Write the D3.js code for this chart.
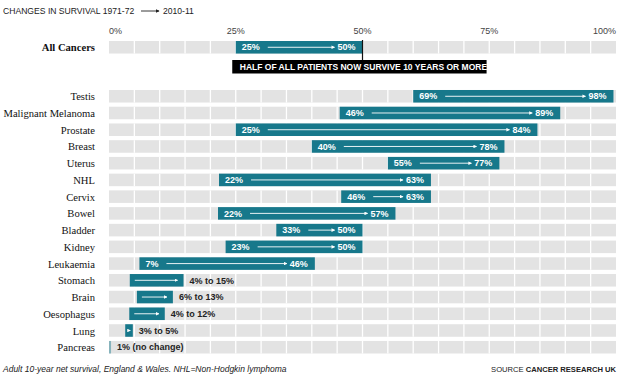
<!DOCTYPE html>
<html>
<head>
<meta charset="utf-8">
<script src="https://cdn.jsdelivr.net/npm/d3@7"></script>
<style>
  html, body { margin: 0; padding: 0; background: #fff; }
  svg { display: block; }
</style>
</head>
<body>
<div id="chart"></div>
<script>
// Cancer survival dumbbell-style bars
(function() {
  "use strict";

  // ---- data ----
  const cancers = ["Testis", "Malignant Melanoma", "Prostate", "Breast", "Uterus", "NHL", "Cervix", "Bowel",
    "Bladder", "Kidney", "Leukaemia", "Stomach", "Brain", "Oesophagus", "Lung", "Pancreas"];
  const survival1971 = [69, 46, 25, 40, 55, 22, 46, 22, 33, 23, 7, 4, 6, 4, 3, 1];   // labelled %
  const survival2010 = [98, 89, 84, 78, 77, 63, 63, 57, 50, 50, 46, 15, 13, 12, 5, 1];
  // extents as the bars are actually drawn in the source graphic
  const barFrom = [60, 45.5, 25, 40, 55, 21.7, 45.8, 21.5, 33, 23, 6, 4.1, 5.5, 4, 3.2, 0];
  const barTo = [99.5, 89, 84.5, 78, 77, 63.5, 63.5, 56.5, 50, 50, 40.6, 14.7, 12.6, 11, 4.7, 0.4];
  const allCancers = { name: "All Cancers", from: 25, to: 50 };
  const tickValues = [0, 25, 50, 75, 100];
  const gridStep = 5;
  const note = "HALF OF ALL PATIENTS NOW SURVIVE 10 YEARS OR MORE";

  const width = 620, height = 377;
  const teal = "#17788b", grey = "#e3e3e3";
  const sans = "'Liberation Sans', Arial, sans-serif";
  const serif = "'Liberation Serif', 'Times New Roman', serif";

  const rows = cancers.map((c, i) => ({
    name: c, a: survival1971[i], b: survival2010[i], from: barFrom[i], to: barTo[i]
  }));

  const x = d3.scaleLinear().domain([0, 100]).range([109, 616]);
  const y = d3.scaleBand().domain(cancers).range([87.9, 355.6]).paddingInner(0.25).paddingOuter(0.125);
  const bw = y.bandwidth();

  const svg = d3.select("#chart").append("svg")
      .attr("width", width)
      .attr("height", height)
      .attr("viewBox", [0, 0, width, height]);

  // defs: arrowheads
  const defs = svg.append("defs");
  function marker(id, color) {
    defs.append("marker")
        .attr("id", id)
        .attr("viewBox", "0 0 6 6")
        .attr("refX", 5).attr("refY", 3)
        .attr("markerWidth", 4).attr("markerHeight", 4)
        .attr("orient", "auto")
      .append("path")
        .attr("d", "M0,0L6,3L0,6Z")
        .attr("fill", color);
  }
  marker("arrW", "#fff");
  marker("arrK", "#222");

  // title
  const title = svg.append("g").attr("font-family", sans).attr("font-size", 8.6).attr("fill", "#222");
  title.append("text").attr("x", 3).attr("y", 14).text("CHANGES IN SURVIVAL 1971-72");
  title.append("line").attr("x1", 141).attr("x2", 159).attr("y1", 11).attr("y2", 11)
      .attr("stroke", "#222").attr("stroke-width", 0.9).attr("marker-end", "url(#arrK)");
  title.append("text").attr("x", 163).attr("y", 14).text("2010-11");

  // axis tick labels
  svg.append("g")
      .attr("font-family", sans).attr("font-size", 9).attr("fill", "#444")
    .selectAll("text")
    .data(tickValues)
    .join("text")
      .attr("x", d => x(d))
      .attr("y", 34)
      .attr("text-anchor", d => d === 0 ? "start" : d === 100 ? "end" : "middle")
      .text(d => d + "%");

  // grey gridded background
  function gridRow(g, top) {
    g.append("rect").attr("x", x(0)).attr("y", top).attr("width", x(100) - x(0)).attr("height", bw).attr("fill", grey);
    g.selectAll("line.grid")
      .data(d3.range(gridStep, 100, gridStep))
      .join("line")
        .attr("class", "grid")
        .attr("x1", d => x(d)).attr("x2", d => x(d))
        .attr("y1", top).attr("y2", top + bw)
        .attr("stroke", "#fff").attr("stroke-width", 1.3);
  }

  // bar with labels
  function drawBar(g, d, top) {
    const x0 = x(d.from), x1 = x(d.to), cy = top + bw / 2;
    const inside = x1 - x0 > 70;
    g.append("rect")
        .attr("x", x0).attr("y", top)
        .attr("width", Math.max(1.5, x1 - x0)).attr("height", bw)
        .attr("fill", teal)
        .attr("opacity", d.a === d.b ? 0.45 : 1);
    if (inside) {
      const t0 = g.append("text")
          .attr("x", x0 + 6).attr("y", cy + 3.2)
          .attr("font-family", sans).attr("font-size", 9).attr("font-weight", "bold").attr("fill", "#fff")
          .text(d.a + "%");
      const t1 = g.append("text")
          .attr("x", x1 - 7).attr("y", cy + 3.2).attr("text-anchor", "end")
          .attr("font-family", sans).attr("font-size", 9).attr("font-weight", "bold").attr("fill", "#fff")
          .text(d.b + "%");
      const w0 = t0.node().getComputedTextLength();
      const w1 = t1.node().getComputedTextLength();
      g.append("line")
          .attr("x1", x0 + 6 + w0 + 8).attr("x2", x1 - 7 - w1 - 3)
          .attr("y1", cy).attr("y2", cy)
          .attr("stroke", "#fff").attr("stroke-width", 0.9)
          .attr("marker-end", "url(#arrW)");
    } else {
      if (d.a !== d.b) {
        g.append("line")
            .attr("x1", Math.min(x0 + 5, x1 - 3)).attr("x2", Math.max(x1 - 6, x0 + 5))
            .attr("y1", cy).attr("y2", cy)
            .attr("stroke", "#fff").attr("stroke-width", 0.9)
            .attr("marker-end", "url(#arrW)");
      }
      g.append("text")
          .attr("x", x1 + 6).attr("y", cy + 3.2)
          .attr("font-family", sans).attr("font-size", 9).attr("font-weight", "bold").attr("fill", "#222")
          .text(d.a === d.b ? `${d.a}% (no change)` : `${d.a}% to ${d.b}%`);
    }
  }

  // All Cancers row
  const allTop = 41;
  const allG = svg.append("g");
  gridRow(allG, allTop);
  drawBar(allG, { a: allCancers.from, b: allCancers.to, from: allCancers.from, to: allCancers.to }, allTop);
  allG.append("text")
      .attr("x", 95).attr("y", allTop + bw / 2 + 4)
      .attr("text-anchor", "end")
      .attr("font-family", serif).attr("font-size", 10.6).attr("font-weight", "bold").attr("fill", "#111")
      .text(allCancers.name);
  allG.append("line")
      .attr("x1", x(50)).attr("x2", x(50)).attr("y1", allTop - 1).attr("y2", 61)
      .attr("stroke", "#111").attr("stroke-width", 1.2);
  const noteT = allG.append("text")
      .attr("x", x(25) + 4).attr("y", 70.2)
      .attr("font-family", sans).attr("font-size", 8.5).attr("font-weight", "bold").attr("fill", "#fff")
      .text(note);
  const nw = noteT.node().getComputedTextLength();
  allG.insert("rect", "text:last-child")
      .attr("x", x(25) - 4 + 0.5).attr("y", 60)
      .attr("width", nw + 7).attr("height", 13.5)
      .attr("fill", "#000");

  // cancer rows
  const row = svg.append("g").selectAll("g")
    .data(rows)
    .join("g");
  row.each(function(d) {
    const g = d3.select(this);
    gridRow(g, y(d.name));
    drawBar(g, d, y(d.name));
  });
  row.append("text")
      .attr("x", 95)
      .attr("y", d => y(d.name) + bw / 2 + 4)
      .attr("text-anchor", "end")
      .attr("font-family", serif).attr("font-size", 10.6).attr("fill", "#111")
      .text(d => d.name);

  // footer
  svg.append("text")
      .attr("x", 3).attr("y", 372)
      .attr("font-family", sans).attr("font-size", 8.5).attr("font-style", "italic").attr("fill", "#222")
      .text("Adult 10-year net survival, England & Wales. NHL=Non-Hodgkin lymphoma");
  const src = svg.append("text")
      .attr("x", 616).attr("y", 372).attr("text-anchor", "end")
      .attr("font-family", sans).attr("font-size", 7.6).attr("fill", "#222");
  src.append("tspan").text("SOURCE ");
  src.append("tspan").attr("font-weight", "bold").text("CANCER RESEARCH UK");
})();
</script>
</body>
</html>
